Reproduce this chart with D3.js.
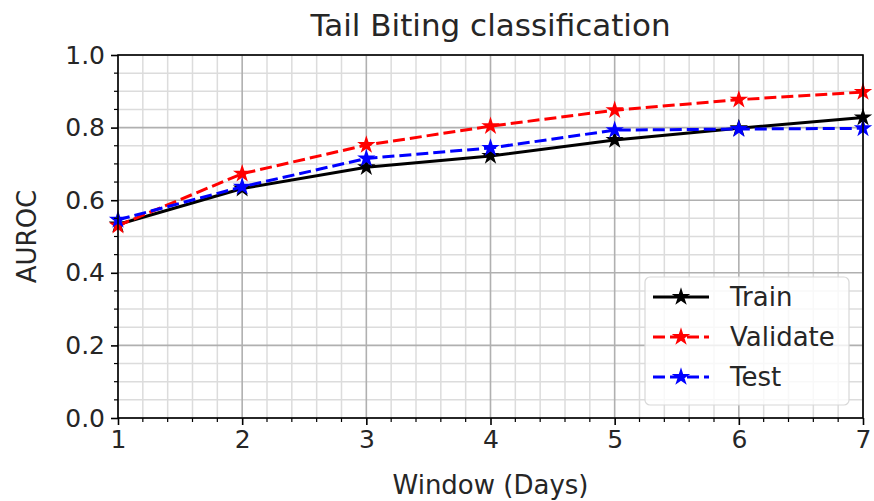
<!DOCTYPE html>
<html>
<head>
<meta charset="utf-8" />
<title>Tail Biting classification</title>
<style>
  html, body { margin: 0; padding: 0; background: #fff; }
  svg { display: block; font-family: "DejaVu Sans", sans-serif; }
</style>
</head>
<body>
<div class="canvas"></div>
<script src="https://d3js.org/d3.v7.min.js"></script>
<script>
var windows = [1, 2, 3, 4, 5, 6, 7];
var train = [0.533, 0.632, 0.691, 0.722, 0.766, 0.798, 0.828];
var validate = [0.530, 0.673, 0.752, 0.804, 0.848, 0.877, 0.898];
var test = [0.546, 0.637, 0.715, 0.744, 0.793, 0.796, 0.798];
var xTicks = [1, 2, 3, 4, 5, 6, 7];
var yTicks = [0.0, 0.2, 0.4, 0.6, 0.8, 1.0];
var seriesNames = ["Train", "Validate", "Test"];

var width = 874, height = 501;
var margin = {left: 118, right: 11, top: 55, bottom: 83};

var svg = d3.select(".canvas").append("svg")
    .attr("width", width).attr("height", height);

var x = d3.scaleLinear().domain([1, 7]).range([margin.left, width - margin.right]);
var y = d3.scaleLinear().domain([0, 1]).range([height - margin.bottom, margin.top]);

var pane = svg.append("g");

// minor grid
var xMinor = d3.range(1, 7.001, 0.2).filter(function(d){ return Math.abs(d - Math.round(d)) > 1e-6; });
var yMinor = d3.range(0, 1.001, 0.05).filter(function(d){ return Math.abs(d*5 - Math.round(d*5)) > 1e-6; });

pane.append("g").selectAll("line").data(xMinor).join("line")
    .attr("x1", function(d){ return x(d); }).attr("x2", function(d){ return x(d); })
    .attr("y1", y(0)).attr("y2", y(1))
    .attr("stroke", "#dcdcdc").attr("stroke-width", 1.5);
pane.append("g").selectAll("line").data(yMinor).join("line")
    .attr("y1", function(d){ return y(d); }).attr("y2", function(d){ return y(d); })
    .attr("x1", x(1)).attr("x2", x(7))
    .attr("stroke", "#dcdcdc").attr("stroke-width", 1.5);

// major grid
pane.append("g").selectAll("line").data(xTicks).join("line")
    .attr("x1", function(d){ return x(d); }).attr("x2", function(d){ return x(d); })
    .attr("y1", y(0)).attr("y2", y(1))
    .attr("stroke", "#b0b0b0").attr("stroke-width", 1.6);
pane.append("g").selectAll("line").data(yTicks).join("line")
    .attr("y1", function(d){ return y(d); }).attr("y2", function(d){ return y(d); })
    .attr("x1", x(1)).attr("x2", x(7))
    .attr("stroke", "#b0b0b0").attr("stroke-width", 1.6);

// axes
var xAxis = d3.axisBottom(x).tickValues(xTicks).tickFormat(d3.format("d")).tickSize(7).tickPadding(5);
var yAxis = d3.axisLeft(y).tickValues(yTicks).tickFormat(d3.format(".1f")).tickSize(7).tickPadding(6);

var gx = svg.append("g").attr("transform", "translate(0," + y(0) + ")").call(xAxis);
var gy = svg.append("g").attr("transform", "translate(" + x(1) + ",0)").call(yAxis);
[gx, gy].forEach(function(g){
    g.select(".domain").remove();
    g.selectAll(".tick line").attr("stroke", "#000").attr("stroke-width", 1.6);
    g.selectAll(".tick text").attr("fill", "#262626").style("font-size", "25px")
        .style("font-family", "DejaVu Sans");
});

// minor ticks
svg.append("g").selectAll("line").data(xMinor).join("line")
    .attr("x1", function(d){ return x(d); }).attr("x2", function(d){ return x(d); })
    .attr("y1", y(0)).attr("y2", y(0) + 4)
    .attr("stroke", "#000").attr("stroke-width", 1.2);
svg.append("g").selectAll("line").data(yMinor).join("line")
    .attr("y1", function(d){ return y(d); }).attr("y2", function(d){ return y(d); })
    .attr("x1", x(1)).attr("x2", x(1) - 4)
    .attr("stroke", "#000").attr("stroke-width", 1.2);

// series
var star = d3.symbol().type(d3.symbolStar).size(105);
var series = [
    {name: seriesNames[0], values: train, color: "#000000", dash: null},
    {name: seriesNames[1], values: validate, color: "#ff0000", dash: "12,5"},
    {name: seriesNames[2], values: test, color: "#0000ff", dash: "12,5"}
];

var line = d3.line()
    .x(function(d, i){ return x(windows[i]); })
    .y(function(d){ return y(d); });

series.forEach(function(s){
    pane.append("path")
        .datum(s.values)
        .attr("d", line)
        .attr("fill", "none")
        .attr("stroke", s.color)
        .attr("stroke-width", 3)
        .attr("stroke-dasharray", s.dash);
    pane.append("g").selectAll("path").data(s.values).join("path")
        .attr("d", star)
        .attr("transform", function(d, i){ return "translate(" + x(windows[i]) + "," + y(d) + ")"; })
        .attr("fill", s.color);
});

// frame
svg.append("rect")
    .attr("x", x(1)).attr("y", y(1))
    .attr("width", x(7) - x(1)).attr("height", y(0) - y(1))
    .attr("fill", "none").attr("stroke", "#000").attr("stroke-width", 1.6);

// title and labels
svg.append("text")
    .attr("x", (x(1) + x(7)) / 2).attr("y", 36)
    .attr("text-anchor", "middle")
    .attr("fill", "#262626")
    .style("font-size", "31px")
    .text("Tail Biting classification");

svg.append("text")
    .attr("x", (x(1) + x(7)) / 2).attr("y", 494)
    .attr("text-anchor", "middle")
    .attr("fill", "#262626")
    .style("font-size", "26px")
    .text("Window (Days)");

svg.append("text")
    .attr("transform", "translate(36," + ((y(0) + y(1)) / 2) + ") rotate(-90)")
    .attr("text-anchor", "middle")
    .attr("fill", "#262626")
    .style("font-size", "26px")
    .text("AUROC");

// legend
var legend = svg.append("g").attr("transform", "translate(645,277)");
legend.append("rect")
    .attr("width", 204).attr("height", 128)
    .attr("rx", 5).attr("ry", 5)
    .attr("fill", "#fff").attr("fill-opacity", 0.8)
    .attr("stroke", "#d8d8d8").attr("stroke-width", 1.2);

series.forEach(function(s, i){
    var ly = 20 + i * 40;
    legend.append("line")
        .attr("x1", 8).attr("x2", 64).attr("y1", ly).attr("y2", ly)
        .attr("stroke", s.color).attr("stroke-width", 3)
        .attr("stroke-dasharray", s.dash);
    legend.append("path")
        .attr("d", star)
        .attr("transform", "translate(36," + ly + ")")
        .attr("fill", s.color);
    legend.append("text")
        .attr("x", 85).attr("y", ly + 9)
        .attr("fill", "#262626")
        .style("font-size", "26px")
        .text(s.name);
});
</script>
</body>
</html>
